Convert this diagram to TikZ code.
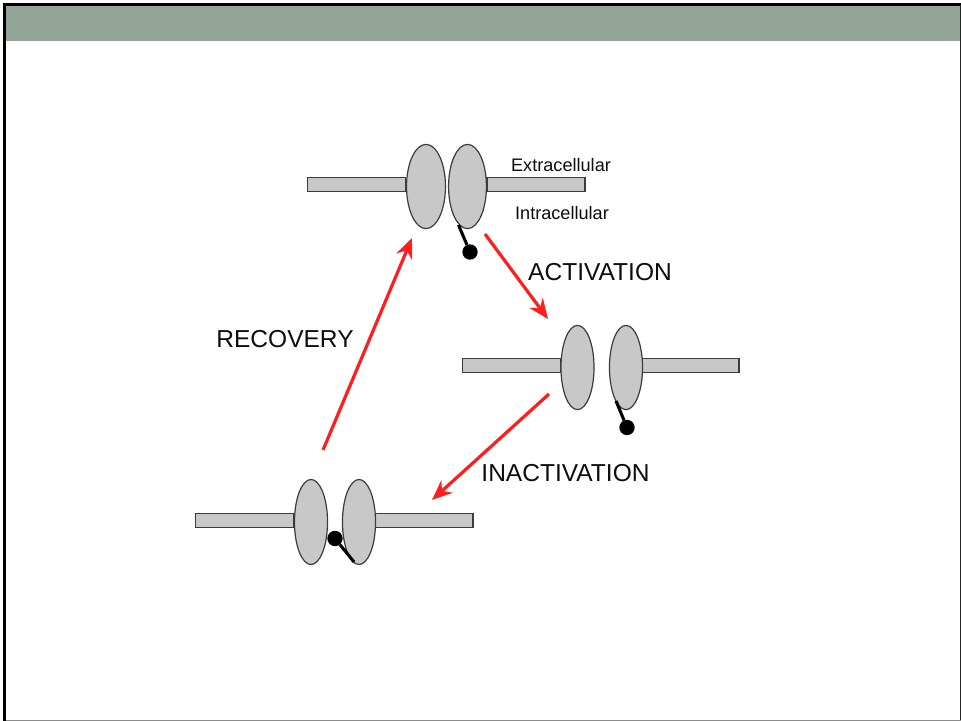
\documentclass[tikz,border=0pt]{standalone}
\usepackage{fontspec}
\setmainfont{Liberation Sans}
\usetikzlibrary{shapes.geometric,arrows.meta}
\definecolor{headbar}{HTML}{93A498}
\definecolor{protein}{HTML}{C8C8C8}
\definecolor{edgegrey}{HTML}{3C3C3C}
\definecolor{arrowred}{HTML}{FF1E1E}
\tikzset{
  px/.style={x=0.75pt,y=-0.75pt},
  membrane/.style={shape=rectangle,draw=edgegrey,fill=protein,line width=0.9pt,inner sep=0pt,outer sep=0pt,minimum height=10.6pt},
  subunit/.style={shape=ellipse,draw=edgegrey,fill=protein,line width=0.9pt,inner sep=0pt,outer sep=0pt},
  gateball/.style={shape=circle,fill=black,inner sep=0pt,outer sep=0pt,minimum size=11.5pt},
  stalk/.style={draw=black,line width=2.3pt},
  transition/.style={draw=arrowred,line width=2.4pt,-{Stealth[length=15pt,width=12.5pt]}},
  biglabel/.style={font=\fontsize{18.4pt}{20pt}\selectfont,text=black!95,inner sep=0pt},
  smalllabel/.style={font=\fontsize{13.6pt}{15pt}\selectfont,text=black!95,inner sep=0pt}
}
\begin{document}
\begin{tikzpicture}[px]
\useasboundingbox (0,0) rectangle (961,721);
% slide frame and title band
\fill[white] (0,0) rectangle (961,721);
\fill[headbar] (5,5) rectangle (961,41);
\fill[black] (3,3) rectangle (961,5.8);
\fill[black] (3,3) rectangle (6,721);
\fill[black!85] (959.7,5) rectangle (961,721);
\fill[black!45] (6,719.8) rectangle (961,721);

% resting channel
\node[membrane,minimum width=74pt] (restL) at (356.5,184.5) {};
\node[membrane,minimum width=73.5pt] (restR) at (536,184.5) {};
\node[subunit,minimum width=29.2pt,minimum height=63.2pt] (restA) at (426,186.5) {};
\node[subunit,minimum width=28.4pt,minimum height=63.2pt] (restB) at (467.5,186.5) {};
\coordinate (restHinge) at (458.5,225);
\node[gateball] (restBall) at (470,252) {};
\draw[stalk] (restHinge) -- (restBall);

% activated channel
\node[membrane,minimum width=74pt] (openL) at (511.5,365.5) {};
\node[membrane,minimum width=73.5pt] (openR) at (690,365.5) {};
\node[subunit,minimum width=24.8pt,minimum height=63.2pt] (openA) at (577.5,367.5) {};
\node[subunit,minimum width=24.8pt,minimum height=63.2pt] (openB) at (626,367.5) {};
\coordinate (openHinge) at (616,401);
\node[gateball] (openBall) at (627,427.5) {};
\draw[stalk] (openHinge) -- (openBall);

% inactivated channel
\node[membrane,minimum width=74pt] (shutL) at (244.5,520.5) {};
\node[membrane,minimum width=73.5pt] (shutR) at (424,520.5) {};
\node[subunit,minimum width=24.8pt,minimum height=63.8pt] (shutA) at (311,522) {};
\node[subunit,minimum width=24.8pt,minimum height=63.8pt] (shutB) at (359,522) {};
\coordinate (shutHinge) at (354,562);
\node[gateball] (shutBall) at (335,538.5) {};
\draw[stalk] (shutHinge) -- (shutBall);

% state transitions
\coordinate (actFrom) at (485,234);
\coordinate (actTo) at (548,319);
\coordinate (inaFrom) at (549,394);
\coordinate (inaTo) at (432,500);
\coordinate (recFrom) at (323,450);
\coordinate (recTo) at (412,238);
\draw[transition] (actFrom) -- (actTo);
\draw[transition] (inaFrom) -- (inaTo);
\draw[transition] (recFrom) -- (recTo);

% labels
\node[smalllabel] (extra) at (561,165) {Extracellular};
\node[smalllabel] (intra) at (562,213) {Intracellular};
\node[biglabel] (activation) at (600,272) {ACTIVATION};
\node[biglabel] (recovery) at (285,339) {RECOVERY};
\node[biglabel] (inactivation) at (565.5,473) {INACTIVATION};
\end{tikzpicture}
\end{document}
